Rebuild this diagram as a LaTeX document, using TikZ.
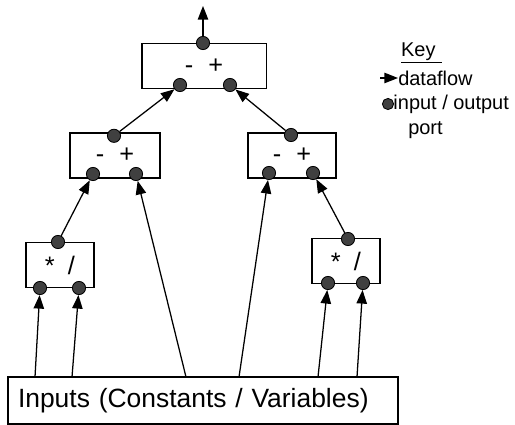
\documentclass[tikz,border=0pt]{standalone}
\usepackage{fontspec}
\setmainfont{Liberation Sans}
\usetikzlibrary{arrows.meta, positioning}

\begin{document}
\begin{tikzpicture}[
    op/.style = {draw, line width = 1pt, minimum height = 1.12cm, inner sep = 0pt,
                 font = \fontsize{18}{20}\selectfont},
    port/.style = {circle, draw, line width = 0.6pt, fill = black!75,
                   minimum size = 0.33cm, inner sep = 0pt},
    flow/.style = {-{Triangle[length = 0.34cm, width = 0.26cm]}, line width = 0.9pt},
    keytext/.style = {anchor = west, inner sep = 0pt, font = \fontsize{14.2}{16}\selectfont},
  ]
  \useasboundingbox (0, 0) rectangle (12.875, 10.625);

  % operator boxes
  \node[op, minimum width = 3.11cm] (add)  at (5.1, 8.975)   {-\hspace{0.38cm}+};
  \node[op, minimum width = 2.25cm] (sumL) at (2.875, 6.7375) {-\hspace{0.38cm}+};
  \node[op, minimum width = 2.2cm]  (sumR) at (7.3, 6.7375)   {-\hspace{0.38cm}+};
  \node[op, minimum width = 1.7cm]  (mulL) at (1.5, 4.0)      {*\hspace{0.33cm}/};
  \node[op, minimum width = 1.7cm]  (mulR) at (8.65, 4.1)     {*\hspace{0.33cm}/};

  % inputs
  \node[draw, line width = 1pt, minimum height = 1.175cm, inner xsep = 0.25cm,
        text width = 9.25cm, align = left, font = \fontsize{18.8}{22}\selectfont]
        (inputs) at (5.075, 0.6125) {Inputs (Constants / Variables)};

  % ports
  \node[port] (addOut)  at (5.075, 9.55)  {};
  \node[port] (addA)    at (4.5, 8.5)     {};
  \node[port] (addB)    at (5.75, 8.5)    {};
  \node[port] (sumLOut) at (2.85, 7.23)   {};
  \node[port] (sumLA)   at (2.325, 6.275) {};
  \node[port] (sumLB)   at (3.4, 6.275)   {};
  \node[port] (sumROut) at (7.275, 7.25)  {};
  \node[port] (sumRA)   at (6.725, 6.3)   {};
  \node[port] (sumRB)   at (7.825, 6.3)   {};
  \node[port] (mulLOut) at (1.45, 4.575)  {};
  \node[port] (mulLA)   at (1.0, 3.425)   {};
  \node[port] (mulLB)   at (1.975, 3.425) {};
  \node[port] (mulROut) at (8.7, 4.65)    {};
  \node[port] (mulRA)   at (8.2, 3.55)    {};
  \node[port] (mulRB)   at (9.075, 3.55)  {};

  % where the wires leave the inputs box
  \coordinate (i1) at (0.875, 1.2);
  \coordinate (i2) at (1.8, 1.2);
  \coordinate (i3) at (4.65, 1.2);
  \coordinate (i4) at (5.975, 1.2);
  \coordinate (i5) at (7.95, 1.2);
  \coordinate (i6) at (8.925, 1.2);
  \coordinate (result) at (5.075, 10.475);

  \foreach \a/\b in {i1/mulLA, i2/mulLB, i3/sumLB, i4/sumRA, i5/mulRA, i6/mulRB,
                     mulLOut/sumLA, mulROut/sumRB, sumLOut/addA, sumROut/addB,
                     addOut/result}
    \draw[flow] (\a) -- (\b);

  % key
  \node[keytext] (keyHead) at (10.02, 9.3) {\underline{Key\,\,}};
  \coordinate (keyTail) at (9.5, 8.675);
  \node[keytext] (dataflow) at (9.95, 8.675) {dataflow};
  \draw[flow] (keyTail) -- (dataflow.west);
  \node[port, minimum size = 0.28cm] (keyPort) at (9.7, 8.025) {};
  \node[keytext] (ioPort) at (9.83, 8.025) {input / output};
  \node[keytext] (portWord) at (10.2, 7.375) {port};
\end{tikzpicture}
\end{document}
